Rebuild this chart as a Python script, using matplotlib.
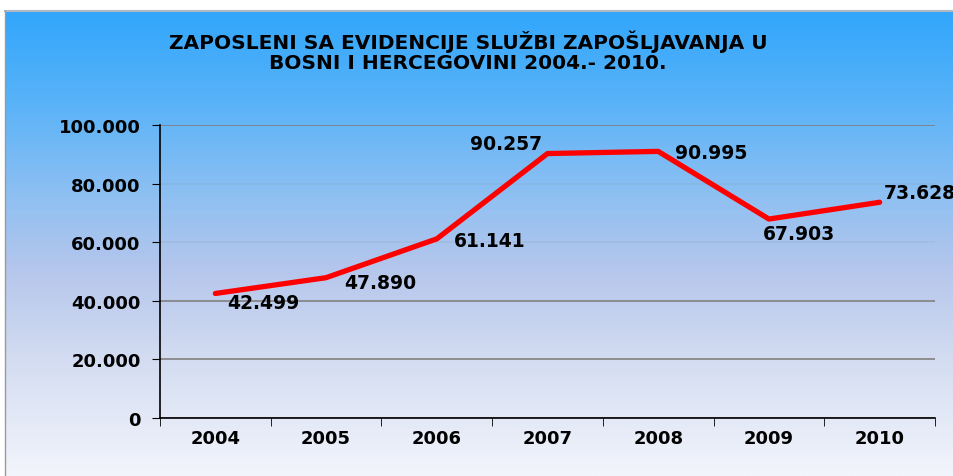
import numpy as np
from matplotlib import pyplot as plt
from matplotlib.colors import LinearSegmentedColormap

years = ["2004", "2005", "2006", "2007", "2008", "2009", "2010"]
employed = [42499, 47890, 61141, 90257, 90995, 67903, 73628]
y_ticks = [0, 20000, 40000, 60000, 80000, 100000]

title_lines = ["ZAPOSLENI SA EVIDENCIJE SLUŽBI ZAPOŠLJAVANJA U",
               "BOSNI I HERCEGOVINI 2004.- 2010."]


def fmt(v):
    return "{:,}".format(v).replace(",", ".")


plt.rcParams['font.family'] = ['DejaVu Sans']
fig = plt.figure(figsize=(9.54, 4.77), dpi=100)

# gradient background panel
bg = fig.add_axes([0, 0, 1, 1])
bg.set_xlim(0, 954)
bg.set_ylim(477, 0)
bg.axis("off")
grad = LinearSegmentedColormap.from_list("bg", [
    (0.0, "#31a6fc"), (0.2, "#5ab3f8"), (0.4, "#8fc0f2"),
    (0.55, "#b4c6ec"), (0.75, "#d3dcf1"), (1.0, "#f3f5fc")])
g = np.linspace(0, 1, 256).reshape(-1, 1)
bg.imshow(g, cmap=grad, aspect="auto", extent=[5, 954, 477, 12], zorder=0)
bg.plot([5, 954], [12, 12], color="#b0b8c4", lw=1.5)
bg.plot([5, 5], [12, 477], color="#9a9a9a", lw=1)

bg.text(468, 49, title_lines[0], ha="center", va="baseline", fontsize=14.5, fontweight="bold")
bg.text(468, 69, title_lines[1], ha="center", va="baseline", fontsize=14.5, fontweight="bold")

ax = fig.add_axes([160 / 954, 1 - 419 / 477, 775 / 954, 293 / 477])
ax.patch.set_alpha(0)
x = np.arange(len(years))
ax.plot(x, employed, color="#ff0000", lw=3.8, solid_capstyle="round", zorder=3, clip_on=False)

ax.set_xlim(-0.5, len(years) - 0.5)
ax.set_ylim(0, 100000)
ax.set_yticks(y_ticks)
ax.set_yticklabels([fmt(v) for v in y_ticks], fontsize=13, fontweight="bold")
ax.set_xticks(x)
ax.set_xticklabels(years, fontsize=13, fontweight="bold")
ax.set_xticks(np.arange(len(years) + 1) - 0.5, minor=True)
ax.tick_params(axis="x", which="major", length=0, pad=8)
ax.tick_params(axis="x", which="minor", length=6, color="black", direction="out")
ax.tick_params(axis="y", length=6, color="black", pad=8)
ax.grid(axis="y", color="#808080", lw=1.2)
for gl, t in zip(ax.get_ygridlines(), y_ticks):
    if t in (60000, 80000):
        gl.set_alpha(0.12)
ax.set_axisbelow(True)
for s in ["top", "right"]:
    ax.spines[s].set_visible(False)
for s in ["left", "bottom"]:
    ax.spines[s].set_color("black")
    ax.spines[s].set_linewidth(1.2)

offsets = [(0.43, -3100), (0.49, -1700), (0.48, -700), (-0.37, 3400),
           (0.48, -300), (0.27, -5100), (0.36, 3400)]
for i, v in enumerate(employed):
    dx, dy = offsets[i]
    ax.text(i + dx, v + dy, fmt(v), ha="center", va="center", fontsize=13.5,
            fontweight="bold", clip_on=False)

fig.savefig("out.png", dpi=100)
